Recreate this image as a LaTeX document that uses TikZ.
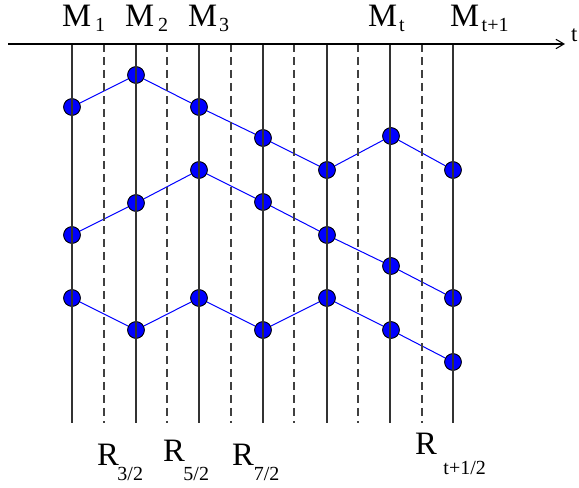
\documentclass[tikz,border=0pt]{standalone}
\usepackage{fontspec}
\setmainfont{Liberation Serif}
\usetikzlibrary{arrows.meta}
\newcommand\bigF{\fontsize{24.5}{24.5}\selectfont}
\newcommand\subF{\fontsize{15}{15}\selectfont}
\newcommand\mlab[2]{{\bigF M}\kern#2\lower3.75pt\hbox{\subF #1}}
\newcommand\rlab[3]{{\bigF R}\kern#2\lower#3\hbox{\subF #1}}
\begin{document}
\begin{tikzpicture}[x=0.75pt,y=-0.75pt,
  dot/.style={circle,draw=black,line width=0.6pt,fill=blue,minimum size=12.5pt,inner sep=0pt},
  link/.style={blue,line width=0.75pt},
  solidline/.style={black!80,line width=0.8pt},
  dashline/.style={black!75,line width=0.8pt,dash pattern=on 6pt off 3.75pt},
  lab/.style={anchor=base west,inner sep=0pt,outer sep=0pt}]
\useasboundingbox (0,0) rectangle (579,488);
% grid coordinates
\foreach \i/\x in {1/72,2/136,3/199,4/263,5/327,6/390,7/453}{
  \coordinate (st\i) at (\x,44);
  \coordinate (sb\i) at (\x,423);
}
\foreach \i/\x in {1/104,2/167,3/231,4/294,5/358,6/422}{
  \coordinate (dt\i) at (\x,44);
  \coordinate (db\i) at (\x,423);
}
% dots (positions)
\node[dot] (a1) at (72,107) {};
\node[dot] (a2) at (136,75) {};
\node[dot] (a3) at (199,107) {};
\node[dot] (a4) at (263,138) {};
\node[dot] (a5) at (327,170) {};
\node[dot] (a6) at (391,136) {};
\node[dot] (a7) at (453,170) {};
\node[dot] (b1) at (72,235) {};
\node[dot] (b2) at (136,203) {};
\node[dot] (b3) at (199,170) {};
\node[dot] (b4) at (263,202) {};
\node[dot] (b5) at (327,235) {};
\node[dot] (b6) at (391,266) {};
\node[dot] (b7) at (453,298) {};
\node[dot] (c1) at (72,298) {};
\node[dot] (c2) at (136,330) {};
\node[dot] (c3) at (199,298) {};
\node[dot] (c4) at (263,330) {};
\node[dot] (c5) at (327,298) {};
\node[dot] (c6) at (391,330) {};
\node[dot] (c7) at (453,362) {};
% links
\foreach \r in {a,b,c}{
  \draw[link] (\r1) -- (\r2) -- (\r3) -- (\r4) -- (\r5) -- (\r6) -- (\r7);
}
% dots again over the links
\foreach \n in {a1,a2,a3,a4,a5,a6,a7,b1,b2,b3,b4,b5,b6,b7,c1,c2,c3,c4,c5,c6,c7}{
  \node[dot] at (\n) {};
}
% vertical lines
\foreach \i in {1,...,7}{ \draw[solidline] (st\i) -- (sb\i); }
\foreach \i in {1,...,6}{ \draw[dashline] (dt\i) -- (db\i); }
% axis
\coordinate (ax0) at (8,44);
\coordinate (ax1) at (565,44);
\draw[black,line width=0.8pt,-{Straight Barb[length=6pt,width=7pt,line width=0.8pt]}] (ax0) -- (ax1);
\node[lab] (tl) at (571,42) {\fontsize{17}{17}\selectfont t};
% top labels
\node[lab] (m1) at (62,27) {\mlab{1}{3pt}};
\node[lab] (m2) at (125,27) {\mlab{2}{3pt}};
\node[lab] (m3) at (188,27) {\mlab{3}{1.5pt}};
\node[lab] (mt) at (368,27) {\mlab{t}{1.5pt}};
\node[lab] (mt1) at (450,27) {\mlab{t+1}{2pt}};
% bottom labels
\node[lab] (r3) at (97,465) {\rlab{3/2}{-1pt}{12pt}};
\node[lab] (r5) at (163,462) {\rlab{5/2}{-1pt}{14pt}};
\node[lab] (r7) at (232,465) {\rlab{7/2}{0pt}{12pt}};
\node[lab] (rt) at (415,455) {\rlab{t+1/2}{5pt}{15pt}};
\end{tikzpicture}
\end{document}
